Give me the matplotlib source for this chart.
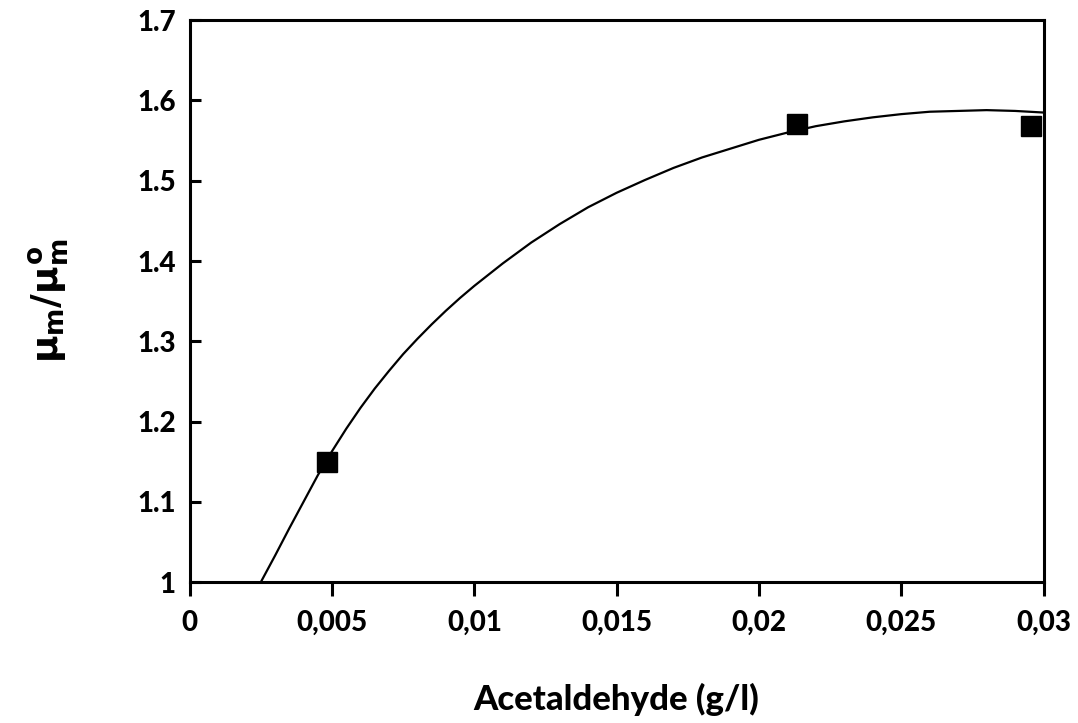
import matplotlib
matplotlib.use("Agg")
import matplotlib.pyplot as plt

# --- data ---
pts_x = [0.00484, 0.02133, 0.02955]
pts_y = [1.150, 1.571, 1.568]

curve_x = [0.0025, 0.0030, 0.0035, 0.0040, 0.0045, 0.0050, 0.0055, 0.0060,
           0.0065, 0.0070, 0.0075, 0.0080, 0.0085, 0.0090, 0.0095, 0.0100,
           0.0110, 0.0120, 0.0130, 0.0140, 0.0150, 0.0160, 0.0170, 0.0180,
           0.0190, 0.0200, 0.0210, 0.0220, 0.0230, 0.0240, 0.0250, 0.0260,
           0.0270, 0.0280, 0.0290, 0.0300]
curve_y = [1.000, 1.033, 1.067, 1.100, 1.133, 1.163, 1.191, 1.217,
           1.241, 1.263, 1.284, 1.303, 1.321, 1.338, 1.354, 1.369,
           1.397, 1.423, 1.446, 1.467, 1.485, 1.501, 1.516, 1.529,
           1.540, 1.551, 1.560, 1.568, 1.574, 1.579, 1.583, 1.586,
           1.587, 1.588, 1.587, 1.585]

xticks = [0, 0.005, 0.01, 0.015, 0.02, 0.025, 0.03]
xtick_labels = ['0', '0,005', '0,01', '0,015', '0,02', '0,025', '0,03']
yticks = [1.0, 1.1, 1.2, 1.3, 1.4, 1.5, 1.6, 1.7]
ytick_labels = ['1', '1.1', '1.2', '1.3', '1.4', '1.5', '1.6', '1.7']

plt.rcParams['font.family'] = ['Lato', 'DejaVu Sans']
plt.rcParams['mathtext.fontset'] = 'custom'
plt.rcParams['mathtext.bf'] = 'DejaVu Sans:bold'
plt.rcParams['mathtext.rm'] = 'DejaVu Sans:bold'
plt.rcParams['mathtext.it'] = 'DejaVu Sans:bold'

fig = plt.figure(figsize=(10.78, 7.23), dpi=100)
ax = fig.add_axes([0.176, 0.195, 0.792, 0.777])

ax.plot(curve_x, curve_y, color='black', lw=1.6, zorder=2)
ax.plot(pts_x, pts_y, 's', color='black', markersize=15, zorder=3, clip_on=False)

ax.set_xlim(0, 0.03)
ax.set_ylim(1.0, 1.7)
ax.set_xticks(xticks)
ax.set_xticklabels(xtick_labels)
ax.set_yticks(yticks)
ax.set_yticklabels(ytick_labels)

for s in ax.spines.values():
    s.set_linewidth(2.2)

ax.tick_params(axis='x', direction='out', length=10, width=2.2, pad=10, labelsize=20)
ax.tick_params(axis='y', direction='in', length=8, width=2.2, pad=10, labelsize=20)
for lbl in ax.get_xticklabels() + ax.get_yticklabels():
    lbl.set_fontweight('black')

ax.set_xlabel('Acetaldehyde (g/l)', fontsize=25, fontweight='black', labelpad=34)
ax.set_ylabel(r'$\mu_{m}/\mu_{m}^{o}$', fontsize=27, labelpad=48)

fig.savefig('out.png', dpi=100)
